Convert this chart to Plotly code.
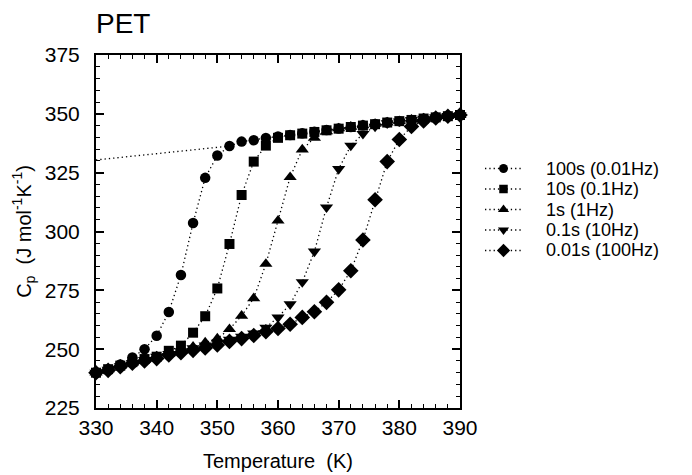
import plotly.graph_objects as go

# ---- data ----
temperature = [330, 332, 334, 336, 338, 340, 342, 344, 346, 348, 350, 352, 354, 356, 358,
               360, 362, 364, 366, 368, 370, 372, 374, 376, 378, 380, 382, 384, 386, 388, 390]

cp_100s = [239.8, 241.0, 243.5, 246.5, 250.0, 255.7, 265.8, 281.5, 303.6, 322.8, 332.3, 336.3, 338.2, 338.8, 339.7,
           340.4, 341.0, 341.7, 342.4, 343.1, 343.8, 344.4, 345.1, 345.7, 346.3, 346.9, 347.4, 347.9, 348.5, 349.0, 349.4]
cp_10s = [240.0, 241.5, 243.0, 244.5, 245.8, 246.8, 249.3, 251.5, 257.0, 264.0, 275.8, 294.7, 315.5, 329.7, 336.5,
          339.8, 340.9, 341.6, 342.3, 343.0, 343.7, 344.4, 345.0, 345.6, 346.3, 346.9, 347.4, 348.0, 348.5, 349.0, 349.5]
cp_1s = [240.0, 241.4, 242.9, 244.3, 245.6, 246.8, 248.1, 249.4, 251.0, 252.8, 254.5, 258.5, 264.2, 271.6, 286.2,
         304.6, 323.1, 334.8, 339.8, 342.6, 343.8, 344.5, 345.1, 345.7, 346.3, 346.9, 347.5, 348.0, 348.5, 349.0, 349.5]
cp_01s = [240.0, 241.3, 242.8, 244.2, 245.5, 246.8, 248.0, 249.2, 250.4, 251.6, 252.8, 254.0, 255.3, 256.7, 259.2,
          263.5, 269.1, 278.5, 291.5, 310.3, 326.6, 336.5, 341.5, 344.6, 346.0, 346.8, 347.4, 348.0, 348.6, 349.1, 349.5]
cp_001s = [240.0, 241.0, 242.5, 244.0, 245.0, 246.0, 247.5, 248.5, 249.5, 250.5, 251.8, 253.3, 254.5, 255.8, 257.4,
           258.8, 260.6, 263.5, 265.9, 269.9, 275.2, 283.3, 296.4, 313.5, 329.7, 339.1, 344.6, 347.0, 348.2, 349.0, 349.5]

# extrapolated liquid Cp (dotted line, upper left)
liquid_T = [330, 352]
liquid_cp = [330.4, 336.3]

series_labels = ["100s (0.01Hz)", "10s (0.1Hz)", "1s (1Hz)", "0.1s (10Hz)", "0.01s (100Hz)"]
series_values = [cp_100s, cp_10s, cp_1s, cp_01s, cp_001s]
series_symbols = ["circle", "square", "triangle-up", "triangle-down", "diamond"]
series_sizes = [10.5, 10, 11.5, 11.5, 12]

x_ticks = [330, 340, 350, 360, 370, 380, 390]
y_ticks = [225, 250, 275, 300, 325, 350, 375]

FONT = "Liberation Sans, Arial, Helvetica, sans-serif"
DOT = "1.3px,3px"

# layout geometry (pixels)
W, H = 692, 475
ML, MR, MT, MB = 96, 2, 55, 67
PW, PH = W - ML - MR, H - MT - MB
PLOT_RIGHT = 460
LEG_X0, LEG_X1, LEG_TEXT_X = 485, 522, 545
LEG_ROW0, LEG_STEP = 168.5, 20.5

fig = go.Figure()

for vals, sym, sz in zip(series_values, series_symbols, series_sizes):
    fig.add_trace(go.Scatter(
        x=temperature, y=vals, mode="lines+markers",
        line=dict(color="black", width=1.3, dash=DOT),
        marker=dict(symbol=sym, size=sz, color="black"),
        showlegend=False, cliponaxis=False))

fig.add_trace(go.Scatter(
    x=liquid_T, y=liquid_cp, mode="lines",
    line=dict(color="black", width=1.3, dash=DOT), showlegend=False))

# ---- hand-built legend on an overlay axis ----
rows = list(range(len(series_labels)))
for i, sym, sz in zip(rows, series_symbols, series_sizes):
    fig.add_trace(go.Scatter(
        x=[0, 0.5, 1], y=[i, i, i], mode="lines",
        line=dict(color="black", width=1.3, dash=DOT),
        xaxis="x2", yaxis="y2", showlegend=False, hoverinfo="skip"))
    fig.add_trace(go.Scatter(
        x=[0.5], y=[i], mode="markers",
        marker=dict(symbol=sym, size=sz * 0.85, color="black"),
        xaxis="x2", yaxis="y2", showlegend=False, hoverinfo="skip"))

annotations = []
for i, lab in zip(rows, series_labels):
    ypx = LEG_ROW0 + i * LEG_STEP
    annotations.append(dict(
        x=(LEG_TEXT_X - ML) / PW, y=(H - MB - ypx) / PH, xref="paper", yref="paper",
        text=lab, showarrow=False, borderpad=0,
        xanchor="left", yanchor="middle", font=dict(family=FONT, size=18, color="black")))

axis_common = dict(
    showgrid=False, zeroline=False, showline=True, linecolor="black", linewidth=2,
    mirror="ticks", ticks="inside", ticklen=8, tickwidth=1.6, tickcolor="black",
    tickfont=dict(family=FONT, size=21, color="black"),
)

fig.update_layout(
    width=W, height=H,
    margin=dict(l=ML, r=MR, t=MT, b=MB, autoexpand=False),
    paper_bgcolor="white", plot_bgcolor="white",
    font=dict(family=FONT, color="black"),
    title=dict(text="PET", x=0, xref="paper", xanchor="left",
               y=1 - 23 / H, yref="container", yanchor="middle",
               font=dict(family=FONT, size=28, color="black")),
    xaxis=dict(
        domain=[0, (PLOT_RIGHT - ML) / PW], range=[330, 390],
        tickvals=x_ticks, ticktext=[str(v) for v in x_ticks],
        minor=dict(dtick=2, tick0=330, ticks="inside", ticklen=4, tickwidth=1.2, tickcolor="black"),
        title=dict(text="Temperature  (K)", font=dict(family=FONT, size=20), standoff=16),
        ticklabelstandoff=0,
        **axis_common),
    yaxis=dict(
        range=[225, 375],
        tickvals=y_ticks, ticktext=[str(v) for v in y_ticks],
        minor=dict(dtick=5, tick0=225, ticks="inside", ticklen=4, tickwidth=1.2, tickcolor="black"),
        title=dict(text="C<sub>p</sub>  (J mol<sup>-1</sup>K<sup>-1</sup>)", font=dict(family=FONT, size=20), standoff=8),
        ticklabelstandoff=10,
        **axis_common),
    xaxis2=dict(domain=[(LEG_X0 - ML) / PW, (LEG_X1 - ML) / PW], range=[0, 1], anchor="y2",
                visible=False, fixedrange=True),
    yaxis2=dict(domain=[(H - MB - (LEG_ROW0 + 4.5 * LEG_STEP)) / PH, (H - MB - (LEG_ROW0 - 0.5 * LEG_STEP)) / PH],
                range=[4.5, -0.5], anchor="x2", visible=False, fixedrange=True),
    annotations=annotations,
)

fig.write_html("out.html")
